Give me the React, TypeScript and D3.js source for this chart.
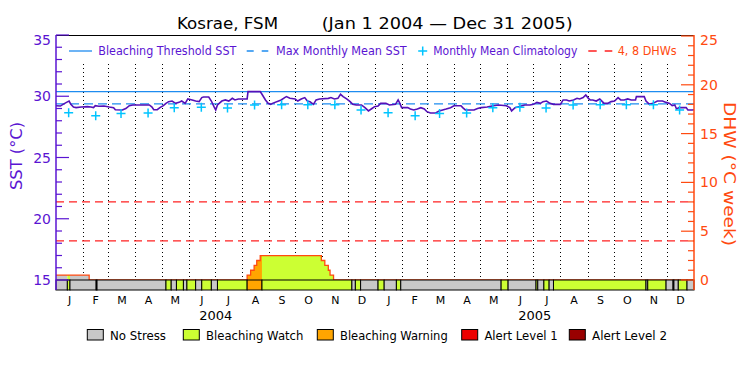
import React from 'react';
import * as d3 from 'd3';

const TITLE_SITE = 'Kosrae, FSM';
const TITLE_RANGE = '(Jan 1 2004 \u2014 Dec 31 2005)';
const START = Date.UTC(2004, 0, 1);
const END = Date.UTC(2006, 0, 1);

// SST (°C): day offset from Jan 1 2004 and value
const sstDays = [0,5,8,12,15,17,20,23,29,36,40,43,45,49,55,61,66,68,76,80,84,88,107,110,112,116,119,123,126,129,133,137,141,144,148,151,156,160,164,167,169,175,178,181,183,185,187,190,194,198,202,205,209,219,220,234,236,240,243,246,248,258,262,264,268,274,277,281,285,288,291,295,298,302,312,315,319,323,326,329,333,337,340,344,350,354,358,362,365,369,372,378,382,389,392,394,396,403,406,410,414,418,422,425,429,435,439,443,447,452,456,464,466,469,479,483,487,494,501,507,516,520,522,526,530,534,537,543,547,551,555,558,562,566,570,578,581,585,588,593,597,600,604,607,610,612,615,619,623,626,628,632,636,640,644,647,651,655,659,664,665,674,676,680,684,689,695,699,703,706,709,711,714,722,724,729,731];
const sstVals = [29.23,29.20,29.34,29.50,29.61,29.34,29.12,29.07,29.12,29.15,29.12,29.07,29.23,29.18,29.20,29.12,29.07,28.90,28.88,29.00,29.23,29.29,29.29,29.12,28.90,28.90,29.07,29.23,29.42,29.56,29.61,29.42,29.50,29.61,29.42,29.78,29.70,29.61,29.56,29.89,29.94,29.94,29.61,29.15,28.88,29.29,29.42,29.61,29.70,29.61,29.83,29.70,29.78,29.78,30.38,30.38,30.16,29.70,29.42,29.34,29.42,29.70,29.89,29.97,29.83,29.78,29.61,29.78,29.89,29.61,29.56,29.34,29.70,29.78,29.83,29.89,29.78,29.83,30.16,29.97,29.78,29.56,29.34,29.29,29.29,29.07,28.80,29.00,29.15,29.20,29.42,29.42,29.29,29.34,29.70,29.42,29.07,29.07,28.96,28.88,28.96,29.07,28.96,28.74,28.63,28.63,28.80,28.88,28.96,29.07,29.23,29.23,29.07,28.88,28.88,29.00,29.07,29.12,29.23,29.29,29.23,29.07,28.80,29.07,29.15,29.23,29.29,29.29,29.34,29.50,29.42,29.56,29.61,29.42,29.34,29.34,29.70,29.70,29.61,29.70,29.83,29.78,29.89,30.10,29.83,29.70,29.70,29.61,29.78,29.56,29.42,29.42,29.56,29.61,29.89,29.70,29.70,29.78,29.70,29.70,29.97,29.97,29.61,29.34,29.42,29.61,29.61,29.50,29.42,29.23,29.29,28.96,29.07,29.07,28.88,28.88,28.90];

// Monthly mean climatology (Jan..Dec)
const climMonthVals = [28.66, 28.41, 28.60, 28.63, 29.07, 29.10, 29.05, 29.28, 29.30, 29.31, 29.30, 28.88];
const MMM = 29.37;
const THRESHOLD = 30.37;

// Degree heating weeks (step values starting at each day)
const dhwDays = [0, 38, 219, 223, 227, 230, 234, 304, 308, 312, 314, 318];
const dhwVals = [0.5, 0, 0.5, 1.0, 1.5, 2.0, 2.5, 2.0, 1.5, 1.0, 0.5, 0];
const dhwLevels = [4, 8];

// Bleaching status: segment start day and level
const statusDays = [0,13,16,46,47,126,132,138,146,150,160,167,178,185,219,236,339,343,349,369,376,390,395,510,518,550,552,559,565,570,676,678,699,707,708,713,723];
const statusLevels = [0,1,0,1,0,1,0,1,0,1,0,1,0,1,2,1,0,1,0,1,0,1,0,1,0,1,0,1,0,1,0,1,0,1,0,1,0];
const statusNames = ['No Stress', 'Bleaching Watch', 'Bleaching Warning', 'Alert Level 1', 'Alert Level 2'];
const statusColors = ['#c8c8c8', '#ccff33', '#ffa500', '#ee0000', '#990000'];

const years = [2004, 2005];
const monthLetters = ['J', 'F', 'M', 'A', 'M', 'J', 'J', 'A', 'S', 'O', 'N', 'D'];
const sstTicks = d3.range(15, 36, 1);
const dhwTicks = d3.range(0, 26, 1);

const FONT = '"DejaVu Sans", sans-serif';
const PURPLE = '#5a14d2';
const SSTLINE = '#5510b8';
const BLUE = '#1e8cf0';
const CYAN = '#00c4ff';
const ORANGE = '#ff4a10';
const RED = '#ff2020';

export default function App() {
  const L = 56, R = 694, T = 35, B = 290, BASE = 280;
  const day = (d: number) => new Date(START + d * 864e5);
  const x = d3.scaleUtc().domain([new Date(START), new Date(END)]).range([L, R]);
  const yS = d3.scaleLinear().domain([15, 35]).range([BASE, T]);
  const yD = d3.scaleLinear().domain([0, 25]).range([BASE, 36]);
  const totalDays = (END - START) / 864e5;

  const sstData = sstDays.map((d, i) => [d, sstVals[i]] as [number, number]);
  const sstLine = d3.line<[number, number]>().x(p => x(day(p[0]))).y(p => yS(p[1]))(sstData) || '';

  const dhwData = dhwDays.map((d, i) => [d, dhwVals[i]] as [number, number]);
  dhwData.push([totalDays, dhwVals[dhwVals.length - 1]]);
  const dhwArea = d3.area<[number, number]>().x(p => x(day(p[0]))).y0(yD(0)).y1(p => yD(p[1])).curve(d3.curveStepAfter)(dhwData) || '';
  const dhwLine = d3.line<[number, number]>().x(p => x(day(p[0]))).y(p => yD(p[1])).curve(d3.curveStepAfter)(dhwData) || '';

  const segs = statusDays.map((s, i) => ({
    s, e: i + 1 < statusDays.length ? statusDays[i + 1] : totalDays, lvl: statusLevels[i],
  }));

  const monthStarts = d3.utcMonth.range(new Date(START), new Date(END));
  const gridMonths = monthStarts.slice(1);
  const climPts = monthStarts.map((m, i) => ({ date: new Date(Date.UTC(m.getUTCFullYear(), m.getUTCMonth(), 15, 12)), v: climMonthVals[i % 12] }));

  const plus = (cx: number, cy: number, r: number) => `M${cx - r},${cy}H${cx + r}M${cx},${cy - r}V${cy + r}`;

  const legendBoxes = [87.3, 183.3, 317.3, 461.7, 569.3];
  const legendTextW = [56, 97.4, 107.7, 73.3, 75];

  return (
    <svg width={750} height={375} style={{ position: 'absolute', left: 0, top: 0, background: '#fff' }} fontFamily={FONT}>
      <rect x={0} y={0} width={750} height={375} fill="#fff" />
      {/* title */}
      <text x={177} y={29} fontSize={16} fill="#000" textLength={101} lengthAdjust="spacingAndGlyphs">{TITLE_SITE}</text>
      <text x={321.7} y={29} fontSize={16} fill="#000" textLength={251} lengthAdjust="spacingAndGlyphs">{TITLE_RANGE}</text>

      {/* month grid lines */}
      {gridMonths.map((m, i) => (
        <line key={'g' + i} x1={Math.round(x(m)) + 0.5} x2={Math.round(x(m)) + 0.5} y1={64} y2={BASE} stroke="#000" strokeWidth={1} strokeDasharray="1,3" />
      ))}

      {/* DHW reference lines */}
      {dhwLevels.map(v => (
        <line key={'dl' + v} x1={L} x2={R} y1={yD(v)} y2={yD(v)} stroke={RED} strokeWidth={1.2} strokeDasharray="8,5" />
      ))}

      {/* DHW fill by status */}
      <defs>
        {segs.map((sg, i) => (
          <clipPath id={'cs' + i} key={'cp' + i}>
            <rect x={x(day(sg.s))} y={0} width={x(day(sg.e)) - x(day(sg.s))} height={BASE} />
          </clipPath>
        ))}
      </defs>
      {segs.map((sg, i) => (
        <path key={'da' + i} d={dhwArea} fill={statusColors[sg.lvl]} clipPath={`url(#cs${i})`} />
      ))}
      <path d={dhwLine} fill="none" stroke={ORANGE} strokeWidth={1.3} />

      {/* status bar */}
      {segs.map((sg, i) => (
        <rect key={'sb' + i} x={x(day(sg.s))} y={BASE} width={x(day(sg.e)) - x(day(sg.s))} height={B - BASE} fill={statusColors[sg.lvl]} stroke="#000" strokeWidth={1} />
      ))}

      {/* SST threshold and MMM */}
      <line x1={L} x2={R} y1={yS(THRESHOLD)} y2={yS(THRESHOLD)} stroke={BLUE} strokeWidth={1.3} />
      <line x1={L} x2={R} y1={yS(MMM)} y2={yS(MMM)} stroke={BLUE} strokeWidth={1.3} strokeDasharray="9,5" />

      {/* SST line */}
      <path d={sstLine} fill="none" stroke={SSTLINE} strokeWidth={1.6} strokeLinejoin="miter" />

      {/* climatology */}
      {climPts.map((p, i) => (
        <path key={'c' + i} d={plus(x(p.date), yS(p.v), 4.5)} stroke={CYAN} strokeWidth={1.5} fill="none" />
      ))}

      {/* frame */}
      <line x1={L} x2={R} y1={T + 0.5} y2={T + 0.5} stroke="#000" strokeWidth={1} />
      <line x1={L} x2={L} y1={T} y2={B} stroke={PURPLE} strokeWidth={1.5} />
      <line x1={R} x2={R} y1={T} y2={B} stroke={ORANGE} strokeWidth={1.5} />

      {/* left axis */}
      {sstTicks.map(v => (
        <line key={'lt' + v} x1={L} x2={L + (v % 5 === 0 ? 13 : 6)} y1={yS(v)} y2={yS(v)} stroke={PURPLE} strokeWidth={1.2} />
      ))}
      {sstTicks.filter(v => v % 5 === 0).map(v => (
        <text key={'ll' + v} x={51} y={Math.max(yS(v), 40)} dy="0.36em" textAnchor="end" fontSize={14} fill={PURPLE}>{v}</text>
      ))}
      <text transform={`translate(22,156) rotate(-90)`} textAnchor="middle" fontSize={15} fill={PURPLE} textLength={68} lengthAdjust="spacingAndGlyphs">SST (°C)</text>

      {/* right axis */}
      {dhwTicks.map(v => (
        <line key={'rt' + v} x1={R - (v % 5 === 0 ? 13 : 6)} x2={R} y1={yD(v)} y2={yD(v)} stroke={ORANGE} strokeWidth={1.2} />
      ))}
      {dhwTicks.filter(v => v % 5 === 0).map(v => (
        <text key={'rl' + v} x={700} y={Math.max(yD(v), 40)} dy="0.36em" textAnchor="start" fontSize={14} fill={ORANGE}>{v}</text>
      ))}
      <text transform={`translate(724,174) rotate(90)`} textAnchor="middle" fontSize={15} fill={ORANGE} textLength={144} lengthAdjust="spacingAndGlyphs">DHW (°C week)</text>

      {/* month labels */}
      {monthStarts.map((m, i) => {
        const next = d3.utcMonth.offset(m, 1);
        const cx = (x(m) + x(next)) / 2;
        return <text key={'ml' + i} x={cx} y={303.5} textAnchor="middle" fontSize={11} fill="#000">{monthLetters[m.getUTCMonth()]}</text>;
      })}
      {years.map(yr => {
        const cx = (x(new Date(Date.UTC(yr, 0, 1))) + x(new Date(Date.UTC(yr + 1, 0, 1)))) / 2;
        return <text key={'yr' + yr} x={cx} y={320} textAnchor="middle" fontSize={13} fill="#000">{yr}</text>;
      })}

      {/* top legend */}
      <line x1={69} x2={92} y1={51} y2={51} stroke={BLUE} strokeWidth={1.3} />
      <text x={98.3} y={55} fontSize={12.5} fill={PURPLE} textLength={138} lengthAdjust="spacingAndGlyphs">Bleaching Threshold SST</text>
      <line x1={246.7} x2={268.3} y1={51} y2={51} stroke={BLUE} strokeWidth={1.3} strokeDasharray="7,8" />
      <text x={276} y={55} fontSize={12.5} fill={PURPLE} textLength={130.7} lengthAdjust="spacingAndGlyphs">Max Monthly Mean SST</text>
      <path d={plus(422.7, 51, 4.5)} stroke={CYAN} strokeWidth={1.5} fill="none" />
      <text x={433.3} y={55} fontSize={12.5} fill={PURPLE} textLength={144} lengthAdjust="spacingAndGlyphs">Monthly Mean Climatology</text>
      <line x1={588.3} x2={612.3} y1={51} y2={51} stroke={RED} strokeWidth={1.3} strokeDasharray="8.4,8" />
      <text x={617.7} y={55} fontSize={12.5} fill={ORANGE} textLength={59} lengthAdjust="spacingAndGlyphs">4, 8 DHWs</text>

      {/* bottom legend */}
      {statusNames.map((n, i) => (
        <g key={'bl' + i}>
          <rect x={legendBoxes[i]} y={329.5} width={16} height={10.5} fill={statusColors[i]} stroke="#000" strokeWidth={1} />
          <text x={legendBoxes[i] + 22.7} y={340} fontSize={12.5} fill="#000" textLength={legendTextW[i]} lengthAdjust="spacingAndGlyphs">{n}</text>
        </g>
      ))}
    </svg>
  );
}
